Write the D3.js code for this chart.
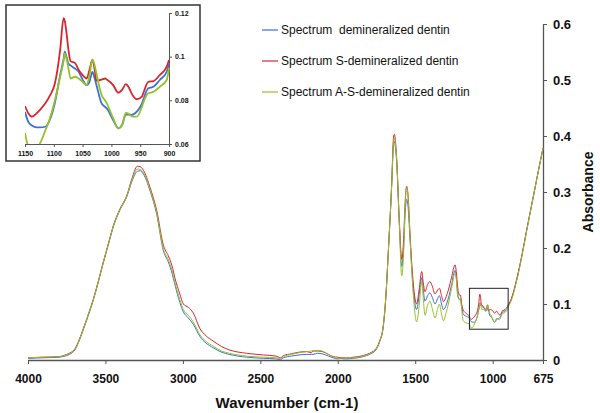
<!DOCTYPE html>
<html><head><meta charset="utf-8">
<script src="https://cdn.jsdelivr.net/npm/d3@7/dist/d3.min.js"></script>
<style>
body{margin:0;background:#fff;}
svg{display:block;}
text{font-family:"Liberation Sans",Arial,sans-serif;}
</style></head><body>
<svg id="c" width="600" height="413"></svg>
<script>
// ---- data ----
const wavenumbers = [4000,3900,3800,3750,3720,3697,3670,3643,3610,3578,3545,3514,3480,3449,3406,3363,3330,3294,3275,3255,3212,3169,3126,3094,3070,3051,3020,2997,2965,2933,2890,2850,2805,2750,2700,2588,2480,2400,2370,2350,2300,2250,2200,2170,2160,2130,2100,2060,2030,2000,1985,1950,1900,1850,1813,1780,1760,1749,1730,1706,1690,1674,1652,1640,1635,1628,1620,1603,1587,1575,1565,1555,1545,1534,1512,1491,1475,1458,1448,1437,1420,1405,1390,1372,1355,1344,1330,1318,1300,1286,1265,1243,1235,1226,1215,1208,1200,1190,1170,1150,1144,1138,1130,1124,1115,1107,1098,1089,1083,1081,1078,1075,1071,1063,1057,1050,1043,1038,1033,1029,1026,1017,1011,1008,997,988,981,975,970,965,956,947,945,936,927,916,904,900,895,880,845,810,780,737,695,675];
const demineralized = [.003,.004,.005,.008,.012,.018,.034,.054,.080,.107,.140,.173,.207,.238,.268,.291,.318,.337,.338,.332,.302,.260,.195,.175,.155,.134,.103,.086,.075,.064,.042,.030,.022,.014,.010,.005,.003,.002,.001,.004,.007,.009,.010,.010,.010,.012,.011,.007,.004,.002,.003,.002,.003,.005,.008,.012,.016,.020,.032,.060,.110,.190,.310,.385,.390,.380,.355,.245,.167,.200,.262,.287,.270,.218,.125,.090,.115,.147,.125,.105,.115,.120,.112,.100,.110,.115,.100,.090,.098,.110,.135,.160,.148,.118,.108,.110,.095,.082,.078,.0746,.0700,.0685,.0676,.0676,.0679,.0710,.0790,.0915,.0990,.1023,.1000,.0970,.0960,.0945,.0931,.0895,.0870,.0885,.0930,.0900,.0870,.0786,.0770,.0763,.0710,.0672,.0690,.0735,.0735,.0733,.0748,.0785,.0800,.0855,.0862,.0893,.0931,.0965,.0990,.108,.143,.188,.232,.292,.351,.378];
const sDemineralized = [.004,.005,.006,.010,.014,.020,.036,.056,.082,.109,.142,.175,.209,.240,.270,.293,.323,.346,.345,.339,.308,.267,.205,.186,.168,.146,.118,.100,.094,.084,.056,.043,.034,.024,.018,.012,.009,.007,.004,.008,.011,.014,.015,.013,.016,.016,.015,.010,.006,.005,.004,.004,.005,.007,.010,.014,.018,.022,.034,.062,.112,.192,.315,.398,.403,.392,.362,.252,.180,.215,.283,.310,.290,.228,.135,.100,.125,.158,.138,.122,.135,.140,.132,.118,.125,.128,.115,.104,.113,.125,.148,.170,.158,.130,.116,.116,.100,.089,.083,.0774,.0740,.0725,.0740,.0756,.0785,.0820,.0878,.1030,.1176,.1165,.1110,.1040,.0980,.0970,.0940,.0915,.0900,.0940,.0985,.0940,.0890,.0895,.0900,.0895,.0870,.0835,.0850,.0874,.0860,.0832,.0805,.0817,.0830,.0885,.0888,.0916,.0954,.0985,.1000,.109,.144,.189,.233,.293,.352,.378];
const asDemineralized = [.004,.005,.006,.009,.013,.019,.035,.055,.081,.108,.141,.174,.208,.239,.269,.292,.320,.341,.340,.335,.304,.262,.198,.179,.160,.138,.108,.090,.080,.068,.045,.033,.025,.016,.012,.007,.005,.004,.002,.006,.010,.013,.015,.016,.017,.017,.016,.010,.006,.003,.003,.004,.004,.006,.009,.013,.017,.021,.033,.061,.112,.192,.312,.390,.396,.386,.358,.248,.150,.190,.275,.308,.285,.222,.115,.068,.095,.140,.110,.080,.098,.105,.092,.075,.092,.100,.082,.070,.085,.100,.128,.155,.145,.115,.108,.111,.090,.070,.066,.0650,.0588,.0575,.0582,.0603,.0660,.0715,.0800,.0908,.0980,.1015,.0990,.0954,.0900,.0908,.0900,.0885,.0870,.0915,.0988,.0960,.0923,.0824,.0800,.0786,.0718,.0672,.0690,.0742,.0738,.0727,.0725,.0770,.0786,.0832,.0839,.0862,.0893,.0950,.0970,.106,.141,.187,.231,.292,.351,.378];
const seriesNames = ["Spectrum  demineralized dentin","Spectrum S-demineralized dentin","Spectrum A-S-demineralized dentin"];
const seriesColors = ["#3a6fd8","#d8262e","#94c12a"];
const xTicks = [4000,3500,3000,2500,2000,1500,1000,675];
const yTicks = [0,0.1,0.2,0.3,0.4,0.5,0.6];
const insetXTicks = [1150,1100,1050,1000,950,900];
const insetYTicks = [0.06,0.08,0.1,0.12];
const zoomBox = {x:[1150,900], y:[0.055,0.128]};

const allSeries = [demineralized, sDemineralized, asDemineralized];
const svg = d3.select("#c");

// ---- main chart ----
const x = d3.scaleLinear().domain([4000,675]).range([28,543]);
const y = d3.scaleLinear().domain([0,0.6]).range([360,24]);

const xAxis = d3.axisBottom(x).tickValues(xTicks).tickSize(4).tickSizeOuter(0).tickFormat(d3.format("d"));
const gx = svg.append("g").attr("transform","translate(0,360)").attr("color","#555").call(xAxis);
gx.select(".domain").attr("stroke-width",1.3);
gx.selectAll(".tick text").attr("font-family","Liberation Sans, Arial, sans-serif").attr("font-size",12).attr("font-weight","bold").attr("fill","#111").attr("dy","1.3em");

const yAxis = d3.axisRight(y).tickValues(yTicks).tickSize(4).tickSizeOuter(0).tickFormat(d=>d===0?"0":d3.format(".1f")(d));
const gy = svg.append("g").attr("transform","translate(543,0)").attr("color","#555").call(yAxis);
gy.select(".domain").attr("stroke-width",1.3);
gy.selectAll(".tick text").attr("font-family","Liberation Sans, Arial, sans-serif").attr("font-size",13).attr("font-weight","bold").attr("fill","#111").attr("x",10);

svg.append("text").attr("x",287).attr("y",408).attr("text-anchor","middle")
  .attr("font-size",15).attr("font-weight","bold").attr("fill","#111").text("Wavenumber (cm-1)");
svg.append("text").attr("transform","translate(593,192) rotate(-90)").attr("text-anchor","middle")
  .attr("font-size",14).attr("font-weight","bold").attr("fill","#111").text("Absorbance");

const line = d3.line().x((d,i)=>x(wavenumbers[i])).y(d=>y(d)).curve(d3.curveMonotoneX);
allSeries.forEach((s,k)=>{
  svg.append("path").datum(s).attr("d",line).attr("fill","none")
    .attr("stroke",seriesColors[k]).attr("stroke-width",1);
});

// zoom box
svg.append("rect").attr("x",x(zoomBox.x[0])).attr("y",y(zoomBox.y[1]))
  .attr("width",x(zoomBox.x[1])-x(zoomBox.x[0])).attr("height",y(zoomBox.y[0])-y(zoomBox.y[1]))
  .attr("fill","none").attr("stroke","#222").attr("stroke-width",1);

// legend
seriesNames.forEach((n,k)=>{
  const ly = 30 + k*31;
  svg.append("line").attr("x1",262).attr("x2",278).attr("y1",ly).attr("y2",ly)
    .attr("stroke",seriesColors[k]).attr("stroke-width",1.2);
  svg.append("text").attr("x",281).attr("y",ly).attr("dy","0.35em")
    .attr("font-family","Open Sans, Noto Sans, sans-serif").attr("font-size",12).attr("fill","#111")
    .style("white-space","pre").text(n);
});

// ---- inset ----
const ins = svg.append("g");
ins.append("rect").attr("x",6).attr("y",5).attr("width",194).attr("height",156)
  .attr("fill","#fff").attr("stroke","#333").attr("stroke-width",1.5);
const ix = d3.scaleLinear().domain([1150,900]).range([25,169]);
const iy = d3.scaleLinear().domain([0.06,0.12]).range([144,13]);
const igx = ins.append("g").attr("transform","translate(0,144)").attr("color","#555")
  .call(d3.axisBottom(ix).tickValues(insetXTicks).tickSize(3).tickSizeOuter(0).tickFormat(d3.format("d")));
const igy = ins.append("g").attr("transform","translate(169,0)").attr("color","#555")
  .call(d3.axisRight(iy).tickValues(insetYTicks).tickSize(3).tickSizeOuter(0).tickFormat(d=>d===0.1?"0.1":d3.format(".2f")(d)));
[igx,igy].forEach(g=>{
  g.selectAll(".tick text").attr("font-family","Liberation Sans, Arial, sans-serif").attr("font-size",7).attr("font-weight","bold").attr("fill","#111");
});
igx.selectAll(".tick text").attr("dy","0.9em");
igy.selectAll(".tick text").attr("x",6);

ins.append("clipPath").attr("id","iclip").append("rect").attr("x",25).attr("y",8).attr("width",150).attr("height",136);
const idx = wavenumbers.map((w,i)=>i).filter(i=>wavenumbers[i]<=1150 && wavenumbers[i]>=900);
const iline = d3.line().x(i=>ix(wavenumbers[i])).curve(d3.curveMonotoneX);
allSeries.forEach((s,k)=>{
  ins.append("path").datum(idx).attr("d",iline.y(i=>iy(s[i]))).attr("fill","none")
    .attr("clip-path","url(#iclip)")
    .attr("stroke",seriesColors[k]).attr("stroke-width",1.8);
});
</script>
</body></html>
